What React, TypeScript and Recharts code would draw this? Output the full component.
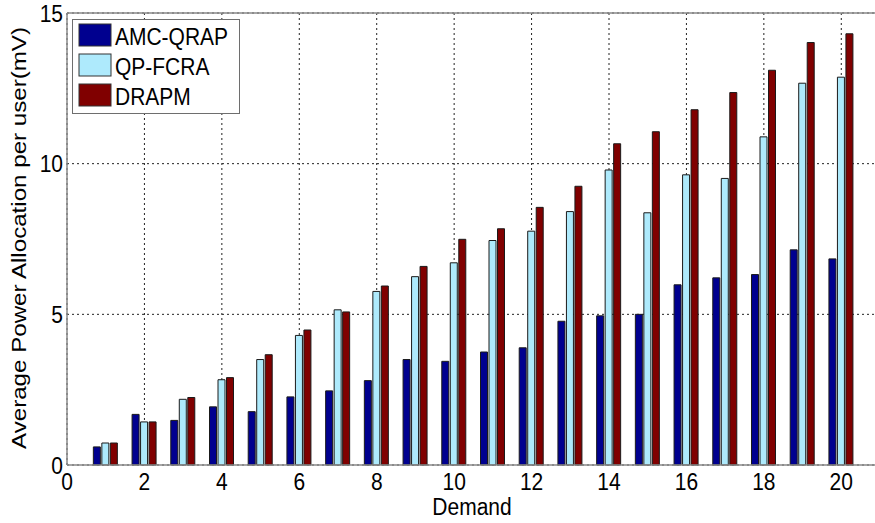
import React from 'react';
import { BarChart, Bar, XAxis, YAxis, CartesianGrid, Legend, ReferenceLine } from 'recharts';

// Demand levels on the x axis
const demands = [1, 2, 3, 4, 5, 6, 7, 8, 9, 10, 11, 12, 13, 14, 15, 16, 17, 18, 19, 20];

// Average power allocation per user (mV)
const amcQrap = [0.60, 1.68, 1.48, 1.93, 1.77, 2.26, 2.46, 2.80, 3.50, 3.44, 3.75, 3.89, 4.77, 4.95, 5.00, 5.98, 6.21, 6.32, 7.14, 6.84];
const qpFcra = [0.73, 1.43, 2.18, 2.83, 3.50, 4.30, 5.15, 5.76, 6.25, 6.71, 7.45, 7.76, 8.41, 9.79, 8.37, 9.63, 9.51, 10.89, 12.67, 12.87];
const drapm = [0.73, 1.43, 2.24, 2.90, 3.66, 4.48, 5.08, 5.94, 6.59, 7.49, 7.84, 8.55, 9.25, 10.66, 11.06, 11.79, 12.36, 13.10, 14.02, 14.31];

const xTicks = [0, 2, 4, 6, 8, 10, 12, 14, 16, 18, 20];
const yTicks = [0, 5, 10, 15];

const SERIES = [
  { key: 'amc', name: 'AMC-QRAP', color: '#00008f' },
  { key: 'qp', name: 'QP-FCRA', color: '#aeeafc' },
  { key: 'dr', name: 'DRAPM', color: '#800000' },
];

const FONT = 'Liberation Sans, Arial, sans-serif';
const STRETCH = 1.15; // the source picture is a bit taller than wide

const data = demands.map((d, i) => ({
  demand: d,
  amc: amcQrap[i],
  qp: qpFcra[i],
  dr: drapm[i],
}));

const XTick = ({ x, payload }: any) => (
  <text
    transform={`translate(${x},490) scale(1,${STRETCH})`}
    textAnchor="middle"
    fontFamily={FONT}
    fontSize={21}
    fill="#000"
  >
    {payload.value}
  </text>
);

const YTick = ({ x, y, payload }: any) => (
  <text
    transform={`translate(${x},${y + 8.6}) scale(1,${STRETCH})`}
    textAnchor="end"
    fontFamily={FONT}
    fontSize={21}
    fill="#000"
  >
    {payload.value}
  </text>
);

// keep the legend in series order (recharts sorts its payload by name)
const LegendBox = () => (
  <svg width={170} height={96} style={{ display: 'block' }}>
    <rect x={0.5} y={0.5} width={167} height={94} fill="#fff" stroke="#6e6e6e" />
    {SERIES.map((s, i) => (
      <g key={s.key}>
        <rect x={7} y={5 + i * 30} width={32} height={22} fill={s.color} stroke="#333" />
        <text
          transform={`translate(43,${26 + i * 30}) scale(1,${STRETCH})`}
          fontFamily={FONT}
          fontSize={21}
          fill="#000"
        >
          {s.name}
        </text>
      </g>
    ))}
  </svg>
);

export default function App() {
  return (
    <div
      style={{
        position: 'fixed',
        left: 0,
        top: 0,
        width: 875,
        height: 523,
        overflow: 'hidden',
        background: '#fff',
      }}
    >
      <BarChart
        width={900}
        height={523}
        data={data}
        margin={{ top: 13, right: 20, bottom: 0, left: 0 }}
        barSize={7}
        barGap={1.5}
      >
        <CartesianGrid stroke="#222" strokeDasharray="2 3" strokeWidth={1} />
        <XAxis
          type="number"
          dataKey="demand"
          domain={[0, 21]}
          ticks={xTicks}
          interval={0}
          height={58}
          tickLine={false}
          tickSize={0}
          tickMargin={0}
          axisLine={{ stroke: '#888', strokeWidth: 1.5 }}
          tick={<XTick />}
          label={{
            content: () => (
              <text
                transform={`translate(472,515) scale(1,${STRETCH})`}
                textAnchor="middle"
                fontFamily={FONT}
                fontSize={21}
                fill="#000"
              >
                Demand
              </text>
            ),
          }}
        />
        <YAxis
          type="number"
          domain={[0, 15]}
          ticks={yTicks}
          interval={0}
          width={67}
          tickLine={false}
          tickSize={0}
          tickMargin={4}
          axisLine={{ stroke: '#888', strokeWidth: 1.5 }}
          tick={<YTick />}
          label={{
            content: () => (
              <text
                transform={`translate(26,238) rotate(-90) scale(${STRETCH},1)`}
                textAnchor="middle"
                fontFamily={FONT}
                fontSize={21}
                fill="#000"
              >
                Average Power Allocation per user(mV)
              </text>
            ),
          }}
        />
        <ReferenceLine y={15} stroke="#888" strokeWidth={1.5} />
        <Legend
          layout="horizontal"
          verticalAlign="middle"
          align="center"
          content={<LegendBox />}
          wrapperStyle={{ position: 'absolute', left: 72, top: 19, width: 170, height: 96 }}
        />
        {SERIES.map((s) => (
          <Bar
            key={s.key}
            dataKey={s.key}
            name={s.name}
            fill={s.color}
            stroke="#1a1a1a"
            strokeWidth={1}
            isAnimationActive={false}
          />
        ))}
      </BarChart>
    </div>
  );
}
